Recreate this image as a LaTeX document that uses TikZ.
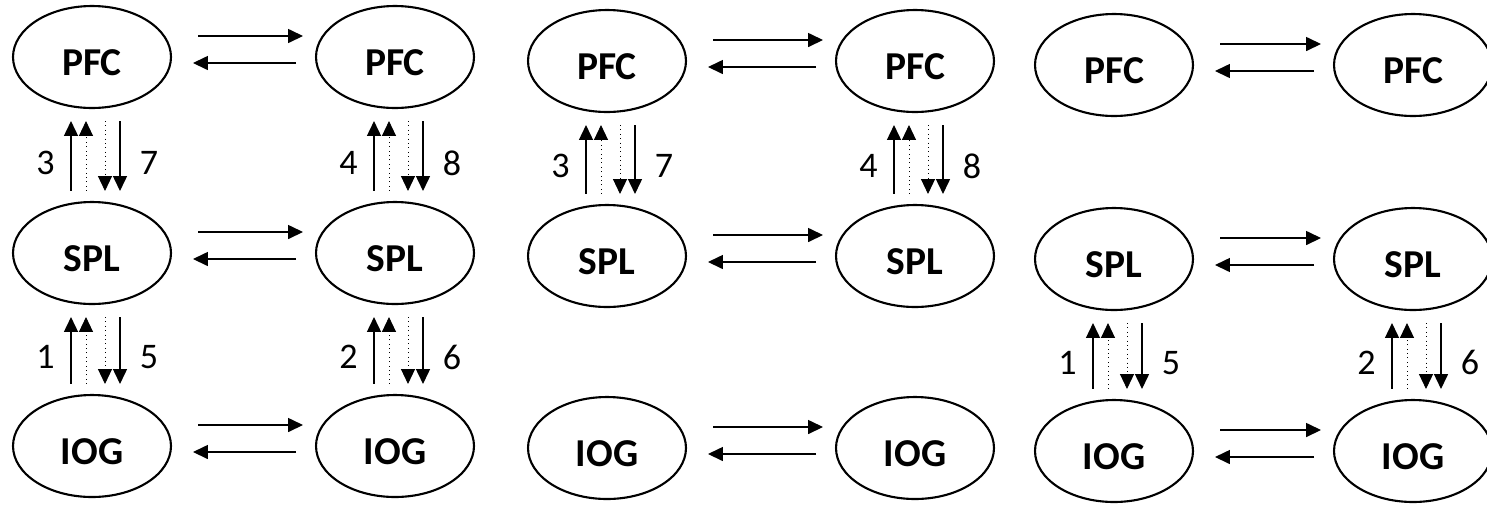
\documentclass[tikz,border=0pt]{standalone}
\usepackage{fontspec}
\setmainfont{Carlito}
\usetikzlibrary{arrows.meta}
\usetikzlibrary{shapes.geometric}

\begin{document}
\begin{tikzpicture}[x=0.02cm, y=-0.02cm,
    reg/.style={ellipse, draw, line width=1.2pt, minimum width=3.16cm, minimum height=2.04cm, inner sep=0pt,
        font=\fontsize{22.5}{22.5}\selectfont\bfseries, text height=20.5pt, text depth=0pt},
    arr/.style={line width=0.7pt, -{Triangle[length=8.5pt, width=8pt]}},
    dotarr/.style={arr, line width=0.5pt, dotted},
    num/.style={font=\fontsize{20.5}{20.5}\selectfont, inner sep=0pt}]
    \useasboundingbox (0,0) rectangle (1487,505);

    % 第一组
    \node[reg] (p1) at (92,57) {PFC};
    \node[reg] (p2) at (395,57) {PFC};
    \node[reg] (s1) at (92,253) {SPL};
    \node[reg] (s2) at (395,253) {SPL};
    \node[reg] (i1) at (92,446) {IOG};
    \node[reg] (i2) at (395,446) {IOG};
    % 第二组
    \node[reg] (p3) at (607,61) {PFC};
    \node[reg] (p4) at (915,61) {PFC};
    \node[reg] (s3) at (607,256) {SPL};
    \node[reg] (s4) at (915,256) {SPL};
    \node[reg] (i3) at (607,448) {IOG};
    \node[reg] (i4) at (915,448) {IOG};
    % 第三组
    \node[reg] (p5) at (1114,65) {PFC};
    \node[reg] (p6) at (1413,65) {PFC};
    \node[reg] (s5) at (1114,259) {SPL};
    \node[reg] (s6) at (1413,259) {SPL};
    \node[reg] (i5) at (1114,451) {IOG};
    \node[reg] (i6) at (1413,451) {IOG};

    % 左右箭头
    \foreach \a/\b in {p1/p2,s1/s2,i1/i2,p3/p4,s3/s4,i3/i4,p5/p6,s5/s6,i5/i6}{
        \draw[arr] ([shift={(106,-21)}]\a.center) -- ([shift={(-92,-21)}]\b.center);
        \draw[arr] ([shift={(-99,6)}]\b.center) -- ([shift={(101,6)}]\a.center);
    }

    % 上下箭头
    \foreach \u/\l/\m/\n in {p1/s1/3/7,s1/i1/1/5,p2/s2/4/8,s2/i2/2/6,p3/s3/3/7,p4/s4/4/8,s5/i5/1/5,s6/i6/2/6}{
        \draw[arr] ([shift={(-21,-10)}]\l.north) -- node[num, pos=0.4, left=9pt] (m\u) {\m} ([shift={(-21,12)}]\u.south);
        \draw[dotarr] ([shift={(-6,-10)}]\l.north) -- ([shift={(-6,12)}]\u.south);
        \draw[dotarr] ([shift={(13,12)}]\u.south) -- ([shift={(13,-10)}]\l.north);
        \draw[arr] ([shift={(28,12)}]\u.south) -- node[num, pos=0.6, right=11pt] (n\u) {\n} ([shift={(28,-10)}]\l.north);
    }
\end{tikzpicture}
\end{document}
